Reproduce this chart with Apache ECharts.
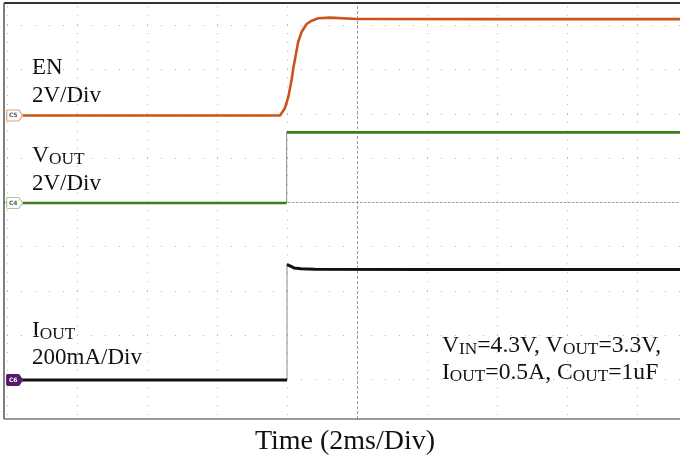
<!DOCTYPE html>
<html><head><meta charset="utf-8">
<script src="https://cdn.jsdelivr.net/npm/echarts@6/dist/echarts.min.js"></script>
<style>html,body{margin:0;padding:0;background:#fff}#c{width:680px;height:459px}</style>
</head><body><div id="c"></div>
<script>
// ---- data (time in ms from left screen edge, 2 ms/div) ----
const enTime  = [0, 7.80, 7.94, 8.04, 8.13, 8.18, 8.26, 8.32, 8.42, 8.56, 8.71, 8.89, 9.23, 9.99, 14, 20];
const enVolts = [0, 0, 0.33, 0.85, 1.60, 2.13, 2.81, 3.33, 3.78, 4.13, 4.28, 4.39, 4.42, 4.36, 4.35, 4.35];
const voutTime  = [0, 7.99, 7.99, 20];
const voutVolts = [0, 0, 3.19, 3.19];
const ioutTime      = [0, 8.0, 8.0, 8.07, 8.2, 8.4, 8.8, 12, 20];
const ioutMilliamps = [0, 0, 522, 516, 506, 502, 500, 499, 499];
const gridRowsDiv = [-4, -3, -2, -1, 1, 2, 3, 4];
const gridColsMs  = [0, 2, 4, 6, 8, 12, 14, 16, 18];
const centerRowDiv = 0, centerColMs = 10;
const channelTags = ['C5', 'C4', 'C6'];
const enLabel = ['EN', '2V/Div'];
const voutLabel = ['{a|V}{b|OUT}', '2V/Div'];
const ioutLabel = ['{a|I}{b|OUT}', '200mA/Div'];
const noteLines = ['{a|V}{b|IN}{a|=4.3V, V}{b|OUT}{a|=3.3V,}', '{a|I}{b|OUT}{a|=0.5A, C}{b|OUT}{a|=1uF}'];
const xTitle = 'Time (2ms/Div)';

// ---- layout ----
const FRAME_L = 4, FRAME_T = 3, FRAME_B = 419, FRAME_R = 680;
const X0 = 7, PX_DIV_X = 70, MS_DIV = 2;
const CY = 202.4, PX_DIV_Y = 44.3;
const FONT = "'Liberation Serif','Times New Roman',serif";

function yRange(zeroPx, perDiv) {
  return { min: -(FRAME_B - zeroPx) / PX_DIV_Y * perDiv, max: (zeroPx - FRAME_T) / PX_DIV_Y * perDiv };
}
const xMin = (FRAME_L - X0) / PX_DIV_X * MS_DIV;
const xMax = (FRAME_R - X0) / PX_DIV_X * MS_DIV;

function splitStep(ts, vs) {
  const trace = [], edges = [];
  for (let i = 0; i < ts.length; i++) {
    if (i > 0 && ts[i] === ts[i - 1]) {
      edges.push([ts[i - 1], vs[i - 1]], [ts[i], vs[i]]);
      trace.push([ts[i], '-']);
    }
    trace.push([ts[i], vs[i]]);
  }
  return { trace, edges };
}
const en = enTime.map((t, i) => [t, enVolts[i]]);
const vo = splitStep(voutTime, voutVolts);
const io = splitStep(ioutTime, ioutMilliamps);

const TAG = 'path://M1,0L12,0L16,5.5L12,11L1,11Q0,11 0,10L0,1Q0,0 1,0Z';
function tag(name, fill, border, textColor) {
  return {
    silent: true, z: 20, symbol: TAG, symbolSize: [16, 11], symbolOffset: [7.7, 0],
    itemStyle: { color: fill, borderColor: border, borderWidth: 1 },
    label: { show: true, formatter: name, color: textColor, fontSize: 6, fontWeight: 'bold',
      fontFamily: 'DejaVu Sans', offset: [-1.5, 0] },
    data: [{ coord: [0, 0] }]
  };
}

const rowStyle = { color: '#b4b4b4', width: 1, type: [1, 13], dashOffset: 11 };
const colStyle = { color: '#b4b4b4', width: 1, type: [1, 7.86], dashOffset: 4.9 };
const centerStyle = { color: '#9a9a9a', width: 1.2, type: [2.5, 1.5] };
const centerVStyle = { color: '#9a9a9a', width: 1, type: [3, 2] };

const rich = {
  a: { fontSize: 23.6, lineHeight: 23, fontFamily: FONT, color: '#111', verticalAlign: 'bottom' },
  b: { fontSize: 17.3, lineHeight: 19.4, fontFamily: FONT, color: '#111', verticalAlign: 'bottom' }
};
function txt(x, baseline, text, size, align) {
  size = size || 23;
  return {
    type: 'text', x: x, y: baseline - 0.305 * size, silent: true,
    style: { text: text, rich: rich, font: size + 'px ' + FONT, fontSize: size, fontFamily: FONT,
      fill: '#111', align: align || 'left', textAlign: align || 'left',
      verticalAlign: 'middle', textVerticalAlign: 'middle' }
  };
}
function frameLine(x1, y1, x2, y2, color, w) {
  return { type: 'line', silent: true, z: 10, shape: { x1, y1, x2, y2 }, style: { stroke: color, lineWidth: w } };
}

const option = {
  animation: false,
  backgroundColor: '#fff',
  grid: { left: FRAME_L, top: FRAME_T, width: FRAME_R - FRAME_L, height: FRAME_B - FRAME_T, show: false },
  xAxis: { type: 'value', min: xMin, max: xMax, show: false },
  yAxis: [
    Object.assign({ type: 'value', show: false }, yRange(115.5, 2)),
    Object.assign({ type: 'value', show: false }, yRange(203, 2)),
    Object.assign({ type: 'value', show: false }, yRange(380, 200)),
    Object.assign({ type: 'value', show: false }, yRange(CY, 1))
  ],
  series: [
    { type: 'line', yAxisIndex: 3, data: [[xMin, 0]], showSymbol: false, lineStyle: { opacity: 0 },
      silent: true, z: 1,
      markLine: { silent: true, z: 1, symbol: 'none', label: { show: false }, animation: false,
        data: gridRowsDiv.map(d => ({ yAxis: d, lineStyle: rowStyle }))
          .concat(gridColsMs.map(t => ({ xAxis: t, lineStyle: colStyle })))
          .concat([{ yAxis: centerRowDiv, lineStyle: centerStyle }, { xAxis: centerColMs, lineStyle: centerVStyle }])
      } },
    { name: 'EN', type: 'line', yAxisIndex: 0, data: en, showSymbol: false, z: 8,
      lineStyle: { color: '#c9541d', width: 2.6 }, markPoint: tag(channelTags[0], '#fff', '#e6a070', '#555') },
    { name: 'VOUT', type: 'line', yAxisIndex: 1, data: vo.trace, showSymbol: false, connectNulls: false, z: 8,
      lineStyle: { color: '#3f7c1c', width: 2.6 }, markPoint: tag(channelTags[1], '#fff', '#a8d08c', '#555') },
    { type: 'line', yAxisIndex: 1, data: vo.edges, showSymbol: false, z: 7,
      lineStyle: { color: '#8c8c8c', width: 1 } },
    { name: 'IOUT', type: 'line', yAxisIndex: 2, data: io.trace, showSymbol: false, connectNulls: false, z: 8,
      lineStyle: { color: '#111', width: 3 }, markPoint: tag(channelTags[2], '#5a1a6c', '#5a1a6c', '#fff') },
    { type: 'line', yAxisIndex: 2, data: io.edges, showSymbol: false, z: 7,
      lineStyle: { color: '#8c8c8c', width: 1 } }
  ],
  graphic: [
    frameLine(FRAME_L, FRAME_T, FRAME_R, FRAME_T, '#333', 2),
    frameLine(FRAME_L, FRAME_T, FRAME_L, FRAME_B, '#555', 1.5),
    frameLine(FRAME_L, FRAME_B, FRAME_R, FRAME_B, '#777', 1.5),
    txt(32, 75, enLabel[0]), txt(32, 103, enLabel[1]),
    txt(32, 163, voutLabel[0]), txt(32, 191, voutLabel[1]),
    txt(32, 338, ioutLabel[0]), txt(32, 365, ioutLabel[1]),
    txt(442, 353, noteLines[0]), txt(442, 380, noteLines[1]),
    txt(345, 450, xTitle, 28, 'center')
  ]
};
echarts.init(document.getElementById('c'), null, { renderer: 'canvas' }).setOption(option);
</script></body></html>
